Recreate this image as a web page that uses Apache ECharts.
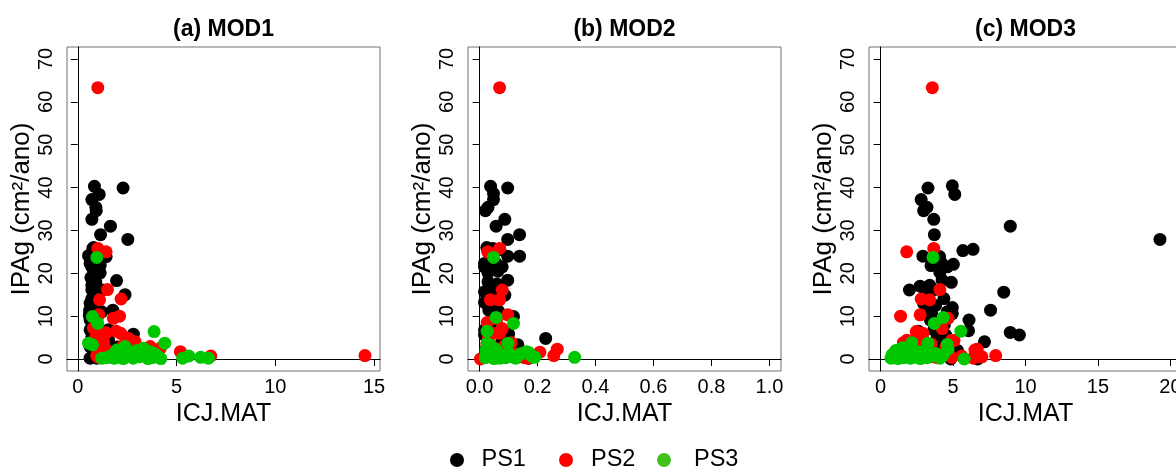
<!DOCTYPE html>
<html lang="pt">

<head>
  <meta charset="UTF-8">
  <title>IPAg x ICJ.MAT</title>
  <script src="https://cdn.jsdelivr.net/npm/echarts@6.0.0/dist/echarts.min.js"></script>
  <style>
    html,
    body {
      margin: 0;
      padding: 0;
      background-color: #fff;
    }

    #chart {
      width: 1176px;
      height: 469px;
    }
  </style>
</head>

<body>
  <div id="chart"></div>
  <script>
    const groups = ['PS1', 'PS2', 'PS3'];
    const colors = ['#000000', '#ff0000', '#00c800'];
    const legendColors = ['#000000', '#ff0000', '#44c01c'];
    const panelTitles = ['(a) MOD1', '(b) MOD2', '(c) MOD3'];

    const yTicks = [0, 10, 20, 30, 40, 50, 60, 70];
    const xTicksA = [0, 5, 10, 15];
    const xTicksB = [0, 0.2, 0.4, 0.6, 0.8, 1.0];
    const xTicksC = [0, 5, 10, 15, 20];

    // (a) MOD1  [ICJ.MAT, IPAg]
    const modA_ps1 = [[0.84, 40.3], [2.29, 39.9], [1.08, 38.4], [0.71, 37.2], [0.91, 35.4], [0.93, 34.6], [0.71, 32.6], [1.65, 31.0], [1.15, 29.0], [2.53, 27.9], [0.76, 25.8], [1.0, 25.6], [0.54, 24.1], [1.43, 23.9], [0.62, 22.3], [0.88, 22.1], [1.13, 21.9], [0.7, 21.5], [1.13, 20.1], [1.96, 18.3], [0.91, 18.0], [0.71, 17.2], [0.71, 16.1], [1.25, 16.1], [2.39, 15.0], [0.71, 14.1], [0.93, 13.0], [0.62, 13.0], [0.71, 12.2], [0.79, 12.2], [1.77, 11.4], [0.59, 11.3], [0.96, 11.8], [1.21, 11.0], [0.62, 9.1], [0.88, 7.9], [0.62, 6.8], [1.55, 6.8], [2.81, 5.8], [0.71, 5.2], [0.62, 2.9], [0.88, 2.1], [0.62, 0.2], [0.96, 0.2], [1.55, 4.4], [1.47, 1.4], [2.48, 1.4], [2.9, 0.7], [0.75, 4.0], [1.1, 3.5], [1.3, 2.5], [0.8, 1.0], [1.2, 0.6], [2.0, 2.8], [2.7, 3.0], [3.3, 1.5], [3.6, 0.8], [1.8, 0.3], [0.58, 10.2], [0.66, 19.0], [1.05, 23.0], [0.8, 26.0]];
    const modA_ps2 = [[1.01, 63.3], [1.01, 25.8], [1.43, 25.0], [1.5, 16.2], [2.19, 14.0], [1.1, 13.8], [2.11, 10.0], [1.8, 9.5], [1.06, 10.3], [1.94, 6.5], [2.17, 6.0], [0.83, 7.1], [1.43, 6.1], [14.54, 0.8], [5.19, 1.7], [6.73, 0.7], [0.79, 7.2], [1.38, 6.0], [0.88, 4.8], [1.3, 4.0], [1.38, 2.5], [2.56, 4.8], [2.9, 4.0], [3.66, 2.9], [4.17, 2.5], [1.04, 0.4], [1.97, 0.9], [3.83, 0.5], [2.3, 3.2], [1.6, 1.5], [1.15, 2.0], [2.7, 1.8], [3.1, 0.6], [0.95, 0.8], [2.45, 2.4]];
    const modA_ps3 = [[0.96, 23.7], [0.74, 9.9], [1.01, 8.3], [3.86, 6.4], [4.4, 3.7], [0.54, 3.7], [0.74, 3.3], [5.31, 0.2], [5.62, 0.7], [6.22, 0.4], [6.61, 0.2], [1.21, 0.2], [1.45, 0.3], [1.63, 0.6], [1.8, 1.0], [1.97, 2.1], [2.05, 0.4], [2.2, 1.2], [2.39, 2.9], [2.5, 0.6], [2.65, 1.5], [2.8, 0.2], [2.95, 1.1], [3.1, 0.5], [3.32, 2.5], [3.45, 0.9], [3.66, 1.7], [3.75, 0.3], [3.9, 1.2], [4.08, 0.5], [4.2, 0.1], [2.3, 0.1], [1.85, 0.2], [3.0, 2.0], [3.55, 0.1]];

    // (b) MOD2
    const modB_ps1 = [[0.038, 40.3], [0.097, 39.9], [0.048, 38.6], [0.048, 37.2], [0.02, 34.6], [0.029, 35.4], [0.087, 32.6], [0.057, 31.0], [0.138, 29.0], [0.097, 27.9], [0.046, 25.8], [0.097, 24.0], [0.138, 24.0], [0.017, 22.3], [0.017, 21.5], [0.057, 22.3], [0.078, 21.5], [0.029, 20.1], [0.097, 18.4], [0.029, 18.0], [0.017, 15.7], [0.048, 16.9], [0.087, 14.9], [0.017, 13.2], [0.032, 11.4], [0.032, 12.2], [0.117, 9.9], [0.228, 4.8], [0.017, 6.8], [0.017, 5.6], [0.075, 3.7], [0.132, 3.3], [0.06, 17.5], [0.04, 15.0], [0.065, 11.2], [0.045, 9.0], [0.09, 6.5], [0.11, 2.6], [0.15, 1.4], [0.02, 2.0], [0.05, 0.3], [0.12, 0.4], [0.17, 0.2], [0.08, 1.0], [0.1, 5.8], [0.036, 7.6], [0.025, 26.0], [0.07, 25.5], [0.044, 22.0], [0.063, 20.5]];
    const modB_ps2 = [[0.069, 63.3], [0.028, 25.0], [0.069, 25.8], [0.078, 16.1], [0.037, 13.8], [0.069, 13.8], [0.097, 10.3], [0.026, 8.5], [0.078, 7.1], [0.069, 6.0], [0.046, 6.0], [0.208, 1.6], [0.268, 2.3], [0.256, 0.8], [0.003, 0.0], [0.109, 3.8], [0.167, 0.2], [0.03, 4.8], [0.05, 2.6], [0.085, 3.0], [0.12, 1.2], [0.14, 0.5], [0.035, 0.9], [0.06, 9.5], [0.1, 2.0], [0.025, 3.5], [0.075, 0.4], [0.155, 0.3], [0.045, 1.8]];
    const modB_ps3 = [[0.048, 23.7], [0.057, 9.7], [0.117, 8.3], [0.026, 6.5], [0.098, 3.7], [0.026, 3.7], [0.328, 0.4], [0.184, 0.5], [0.161, 1.7], [0.144, 1.3], [0.02, 0.3], [0.03, 1.2], [0.035, 2.8], [0.04, 0.5], [0.045, 1.8], [0.05, 0.1], [0.055, 2.3], [0.06, 0.8], [0.065, 1.4], [0.07, 0.2], [0.08, 0.9], [0.09, 0.3], [0.1, 1.4], [0.11, 0.6], [0.125, 0.2], [0.135, 0.9], [0.17, 1.5], [0.19, 0.4], [0.022, 2.0], [0.038, 3.2], [0.075, 0.5], [0.175, 1.0]];

    // (c) MOD3
    const modC_ps1 = [[3.27, 39.9], [4.95, 40.4], [5.12, 38.4], [2.8, 37.2], [2.97, 34.6], [3.2, 35.4], [3.67, 32.6], [8.95, 31.0], [3.71, 29.0], [19.28, 27.9], [5.68, 25.3], [6.38, 25.6], [2.92, 24.0], [4.07, 23.9], [3.48, 21.8], [4.18, 22.5], [4.6, 21.5], [5.02, 22.1], [4.09, 20.2], [4.25, 18.4], [4.88, 17.9], [1.99, 16.1], [2.73, 17.0], [3.39, 17.2], [3.67, 16.1], [8.5, 15.6], [4.37, 14.1], [2.97, 13.0], [7.59, 11.4], [4.95, 12.0], [4.6, 11.0], [4.95, 10.6], [3.32, 11.3], [3.55, 10.3], [6.1, 9.1], [6.07, 6.6], [8.95, 6.2], [9.58, 5.6], [7.17, 4.0], [4.49, 5.6], [3.67, 6.8], [3.9, 4.8], [3.43, 9.1], [6.7, 0.0], [6.47, 0.5], [4.84, 0.0], [4.02, 2.9], [3.1, 15.0], [3.8, 12.5], [2.6, 6.5], [3.0, 3.0], [4.3, 1.0], [3.5, 0.5], [2.4, 0.8], [5.3, 2.0], [3.6, 22.0], [4.4, 8.0], [3.2, 2.2]];
    const modC_ps2 = [[3.57, 63.3], [1.8, 25.0], [3.67, 25.8], [4.09, 16.2], [2.8, 14.0], [3.39, 13.8], [1.38, 10.0], [2.73, 10.3], [4.65, 9.5], [7.94, 0.8], [6.66, 2.3], [6.99, 0.5], [5.07, 4.3], [4.25, 7.1], [2.92, 6.0], [2.5, 5.2], [2.03, 3.7], [1.57, 3.8], [4.91, 4.4], [2.46, 6.4], [2.73, 5.6], [1.82, 4.4], [1.58, 3.3], [6.51, 2.1], [6.86, 0.7], [5.6, 0.7], [4.91, 0.4], [2.73, 2.1], [3.2, 1.4], [2.2, 1.0], [3.9, 0.3], [2.9, 4.8], [2.35, 2.6], [6.4, 0.2], [4.5, 2.8], [1.9, 2.0], [3.5, 3.5]];
    const modC_ps3 = [[3.62, 23.7], [4.32, 9.7], [3.71, 8.3], [5.54, 6.5], [3.27, 3.7], [4.6, 3.4], [4.65, 2.3], [2.15, 3.8], [5.77, 0.0], [0.72, 0.2], [0.8, 1.0], [0.95, 0.4], [1.1, 1.5], [1.2, 0.1], [1.35, 0.8], [1.5, 2.6], [1.6, 0.3], [1.7, 1.6], [1.85, 0.6], [1.95, 2.2], [2.05, 0.2], [2.25, 1.1], [2.4, 0.4], [2.6, 1.7], [2.75, 0.1], [2.95, 0.9], [3.05, 1.8], [3.2, 0.3], [3.45, 0.6], [3.8, 1.3], [4.1, 0.2], [4.3, 0.8], [1.05, 2.0], [1.4, 1.8], [2.8, 0.5]];

    const panels = [
      { data: [modA_ps1, modA_ps2, modA_ps3], ticks: xTicksA, min: -0.55, max: 15.3, left: 67, fmt: v => String(v) },
      { data: [modB_ps1, modB_ps2, modB_ps3], ticks: xTicksB, min: -0.04, max: 1.04, left: 468, fmt: v => v.toFixed(1) },
      { data: [modC_ps1, modC_ps2, modC_ps3], ticks: xTicksC, min: -0.8, max: 20.8, left: 869, fmt: v => String(v) }
    ];

    const font = '"Liberation Sans", Arial, sans-serif';
    const boxW = 313;

    const grid = [], xAxis = [], yAxis = [], title = [], series = [];
    panels.forEach((p, i) => {
      grid.push({
        left: p.left, top: 47, width: boxW, height: 324,
        show: true, borderColor: '#707070', borderWidth: 1,
        containLabel: false, outerBoundsMode: 'none'
      });
      title.push({
        text: panelTitles[i],
        left: p.left + boxW / 2, top: 18, textAlign: 'center', padding: 0,
        textStyle: { fontFamily: font, fontSize: 23, fontWeight: 'bold', color: '#000' }
      });
      xAxis.push({
        gridIndex: i, type: 'value', min: p.min, max: p.max,
        name: 'ICJ.MAT', nameLocation: 'middle', nameGap: 25,
        nameTextStyle: { fontFamily: font, fontSize: 25, color: '#000' },
        axisLine: { show: true, lineStyle: { color: '#000', width: 1 } },
        axisTick: { show: true, length: 7, customValues: p.ticks, lineStyle: { color: '#000' } },
        axisLabel: { customValues: p.ticks, formatter: p.fmt, fontFamily: font, fontSize: 20, color: '#000', margin: 6 },
        splitLine: { show: false }
      });
      yAxis.push({
        gridIndex: i, type: 'value', min: -2.8, max: 72.8,
        name: 'IPAg (cm²/ano)', nameLocation: 'middle', nameGap: 32,
        nameTextStyle: { fontFamily: font, fontSize: 26, color: '#000' },
        axisLine: { show: true, lineStyle: { color: '#000', width: 1 } },
        axisTick: { show: true, length: 7, customValues: yTicks, lineStyle: { color: '#000' } },
        axisLabel: { customValues: yTicks, rotate: 90, fontFamily: font, fontSize: 20, color: '#000', margin: 11 },
        splitLine: { show: false }
      });
      groups.forEach((g, k) => {
        series.push({
          name: g, type: 'scatter', xAxisIndex: i, yAxisIndex: i,
          data: p.data[k], symbol: 'circle', symbolSize: 13,
          itemStyle: { color: colors[k], opacity: 1 },
          emphasis: { disabled: true }
        });
      });
    });

    // one legend per item, spaced like the original R legend
    const legendLeft = [450, 559, 657];
    const legendIconW = [39, 40, 50];
    const legend = groups.map((g, k) => ({
      data: [{ name: g, itemStyle: { color: legendColors[k] } }],
      left: legendLeft[k], top: 448, padding: 0,
      icon: 'circle', itemWidth: legendIconW[k], itemHeight: 14,
      textStyle: { fontFamily: font, fontSize: 23.5, color: '#000' }
    }));

    const myChart = echarts.init(document.getElementById('chart'), null, { renderer: 'canvas' });
    myChart.setOption({
      animation: false,
      color: colors,
      title: title,
      grid: grid,
      xAxis: xAxis,
      yAxis: yAxis,
      legend: legend,
      series: series
    });
  </script>
</body>

</html>
